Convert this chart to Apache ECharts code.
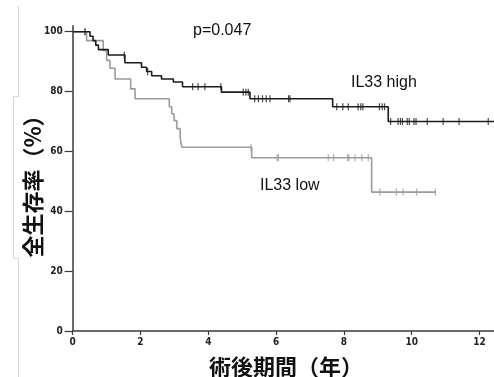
<!DOCTYPE html>
<html>
<head>
<meta charset="utf-8">
<script src="https://cdn.jsdelivr.net/npm/echarts@6/dist/echarts.min.js"></script>
<style>
html,body{margin:0;padding:0;background:#fff;}
#c{width:494px;height:377px;}
</style>
</head>
<body>
<div id="c"></div>
<script>
// ---- data ----
var xTicks = [0, 2, 4, 6, 8, 10, 12];
var yTicks = [0, 20, 40, 60, 80, 100];

// IL33 high: event times (years) and survival (%) after each step
var highTimes = [0, 0.51, 0.60, 0.68, 0.76, 1.05, 1.54, 2.03, 2.18, 2.33, 2.62, 2.97, 3.24, 4.39, 5.23, 7.67, 9.31, 12.43];
var highSurv  = [100, 98.5, 97.0, 95.5, 94.0, 92.2, 89.6, 88.1, 86.7, 85.3, 84.2, 83.2, 81.6, 79.8, 77.6, 74.9, 70.0, 70.0];
var highCensor = [0.36, 1.52, 2.21, 3.54, 3.70, 3.90, 4.37, 5.03, 5.11, 5.18, 5.37, 5.48, 5.60, 5.71, 5.82, 6.37, 6.41,
                  7.79, 7.97, 8.13, 8.42, 8.50, 8.56, 9.05, 9.13, 9.20, 9.38, 9.60, 9.67, 9.73, 9.87, 9.93, 10.07, 10.13,
                  10.46, 10.93, 11.40, 12.26];

// IL33 low
var lowTimes = [0, 0.41, 0.90, 1.00, 1.10, 1.25, 1.71, 1.84, 2.85, 2.92, 2.99, 3.07, 3.17, 3.22, 5.28, 8.82, 10.72];
var lowSurv  = [100, 97.0, 93.7, 90.4, 87.8, 84.2, 80.9, 77.6, 74.9, 72.6, 70.3, 67.6, 64.6, 61.4, 57.9, 46.4, 46.4];
var lowCensor = [0.37, 5.26, 6.03, 6.07, 7.54, 7.70, 8.11, 8.15, 8.33, 8.53, 8.72, 9.06, 9.55, 9.75, 10.15, 10.70];

var pText = 'p=0.047';
var highLabel = 'IL33 high';
var lowLabel = 'IL33 low';
var xTitle = '術後期間（年）';
var yTitle = '全生存率（%）';

// ---- build ----
function pairs(t, s) { return t.map(function (v, i) { return [v, s[i]]; }); }
function survAt(t, times, surv) {
  var v = surv[0];
  for (var i = 0; i < times.length; i++) { if (times[i] <= t) v = surv[i]; }
  return v;
}
function censorPts(c, times, surv) { return c.map(function (t) { return [t, survAt(t, times, surv)]; }); }

var HIGH = '#1c1c1c', LOW = '#9b9b9b', AXIS = '#3a3a3a';
var tickFont = '"Liberation Sans Narrow","DejaVu Sans Condensed","Arial Narrow",sans-serif';
var cjk = '"Noto Sans CJK JP","Noto Sans CJK SC",sans-serif';

var chart = echarts.init(document.getElementById('c'), null, {renderer: 'canvas'});
chart.setOption({
  animation: false,
  backgroundColor: '#fff',
  grid: {left: 72.7, right: 0, top: 25.7, bottom: 46, containLabel: false},
  xAxis: {
    type: 'value', min: 0, max: 12.43, interval: 2,
    splitLine: {show: false},
    axisLine: {onZero: false, lineStyle: {color: AXIS, width: 1.5}},
    axisTick: {show: true, length: 4, lineStyle: {color: AXIS, width: 1.2}, customValues: xTicks},
    axisLabel: {margin: 6, fontSize: 10, fontWeight: 'bold', fontFamily: tickFont, color: '#222',
      customValues: xTicks,
      formatter: function (v) { return xTicks.indexOf(v) >= 0 ? String(v) : ''; }}
  },
  yAxis: {
    type: 'value', min: 0, max: 102, interval: 20,
    splitLine: {show: false},
    axisLine: {show: true, onZero: false, lineStyle: {color: AXIS, width: 1.5}},
    axisTick: {show: true, length: 8, lineStyle: {color: AXIS, width: 1.2}, customValues: yTicks},
    axisLabel: {margin: 10, fontSize: 10, fontWeight: 'bold', fontFamily: tickFont, color: '#222',
      customValues: yTicks,
      formatter: function (v) { return yTicks.indexOf(v) >= 0 ? String(v) : ''; }}
  },
  series: [
    {type: 'line', step: 'end', data: pairs(lowTimes, lowSurv), showSymbol: false, clip: false,
      lineStyle: {color: LOW, width: 1.6}, z: 2},
    {type: 'scatter', data: censorPts(lowCensor, lowTimes, lowSurv), symbol: 'rect', symbolSize: [1.2, 7],
      itemStyle: {color: LOW}, z: 2},
    {type: 'line', step: 'end', data: pairs(highTimes, highSurv), showSymbol: false, clip: false,
      lineStyle: {color: HIGH, width: 1.6}, z: 3},
    {type: 'scatter', data: censorPts(highCensor, highTimes, highSurv), symbol: 'rect', symbolSize: [1.2, 7],
      itemStyle: {color: HIGH}, z: 3}
  ],
  graphic: [
    {type: 'text', left: 193, top: 23, style: {text: pText, font: '16px "Liberation Sans", Arial, sans-serif', fill: '#111'}},
    {type: 'text', left: 351, top: 75, style: {text: highLabel, font: '16px "Liberation Sans", Arial, sans-serif', fill: '#111'}},
    {type: 'text', left: 260, top: 178, style: {text: lowLabel, font: '16px "Liberation Sans", Arial, sans-serif', fill: '#111'}},
    {type: 'text', x: 286, y: 367, style: {text: xTitle, font: 'bold 22px ' + cjk, fill: '#111', align: 'center', verticalAlign: 'middle'}},
    {type: 'text', x: 32.5, y: 181, rotation: Math.PI / 2, style: {text: yTitle, font: 'bold 22px ' + cjk, fill: '#111', align: 'center', verticalAlign: 'middle'}},
    {type: 'polyline', shape: {points: [[18.5, 6], [18.5, 96.5], [13.5, 96.5], [13.5, 258.5], [18.5, 258.5], [18.5, 377]]},
      style: {stroke: '#d6d6d6', lineWidth: 1, fill: null}}
  ]
});
</script>
</body>
</html>
